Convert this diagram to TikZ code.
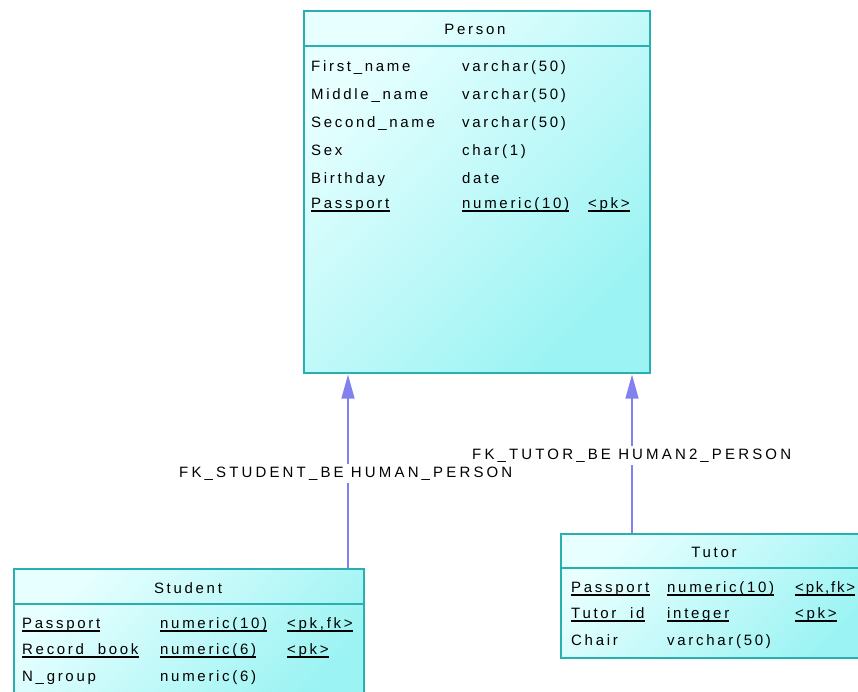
\documentclass[tikz,border=0pt]{standalone}
\usepackage{fontspec}
\setmainfont{Liberation Sans}[LetterSpace=18]
\usetikzlibrary{arrows.meta,calc}
\definecolor{tborder}{RGB}{40,175,175}
\definecolor{tlight}{RGB}{232,255,255}
\definecolor{tdark}{RGB}{155,243,243}
\definecolor{fkcol}{RGB}{130,130,238}
\newcommand{\rowul}[1]{\draw[ulline] ([yshift=-3pt]#1.base west) -- ([yshift=-3pt]#1.base east);}
\begin{document}
\begin{tikzpicture}[x=1pt,y=-1pt,
  tbl/.style={draw=tborder, line width=1.6pt, rectangle, inner sep=0pt,
    top color=tlight, bottom color=tdark, shading angle=45, anchor=north west},
  tblline/.style={draw=tborder, line width=1.6pt},
  txt/.style={anchor=base west, inner sep=0pt, font=\fontsize{15}{18}\selectfont, text=black},
  ttl/.style={anchor=base, inner sep=0pt, font=\fontsize{15}{18}\selectfont, text=black},
  ulline/.style={draw=black, line width=1.2pt},
  fk/.style={draw=fkcol, line width=1.5pt, shorten >=1pt, -{Triangle[width=13pt,length=24pt]}},
  lbl/.style={fill=white, inner xsep=1pt, inner ysep=3pt, anchor=base west,
    font=\fontsize{15}{18}\selectfont\addfontfeature{LetterSpace=21}, text=black}
]
\useasboundingbox (0,0) rectangle (858,691);
\clip (0,0) rectangle (858,691);

% tables
\node[tbl, minimum width=346pt, minimum height=362pt] (person) at (303,10) {};
\node[tbl, minimum width=350pt, minimum height=140pt] (student) at (13,568) {};
\node[tbl, minimum width=320pt, minimum height=124pt] (tutor) at (560,533) {};
\draw[tblline] ([yshift=-36pt]person.north west) -- ([yshift=-36pt]person.north east);
\draw[tblline] ([yshift=-36pt]student.north west) -- ([yshift=-36pt]student.north east);
\draw[tblline] ([yshift=-35pt]tutor.north west) -- ([yshift=-35pt]tutor.north east);

% Person
\node[ttl] (ptitle) at (475,34) {Person};
\node[txt] (p1n) at (311,71) {First\_name};
\node[txt] (p1t) at (462,71) {varchar(50)};
\node[txt] (p2n) at (311,99) {Middle\_name};
\node[txt] (p2t) at (462,99) {varchar(50)};
\node[txt] (p3n) at (311,127) {Second\_name};
\node[txt] (p3t) at (462,127) {varchar(50)};
\node[txt] (p4n) at (311,155) {Sex};
\node[txt] (p4t) at (462,155) {char(1)};
\node[txt] (p5n) at (311,183) {Birthday};
\node[txt] (p5t) at (462,183) {date};
\node[txt] (p6n) at (311,208) {Passport};
\node[txt] (p6t) at (462,208) {numeric(10)};
\node[txt] (p6k) at (588,208) {<pk>};
\rowul{p6n}\rowul{p6t}\rowul{p6k}

% Student
\node[ttl] (stitle) at (188,593) {Student};
\node[txt] (s1n) at (22,628) {Passport};
\node[txt] (s1t) at (160,628) {numeric(10)};
\node[txt] (s1k) at (287,628) {<pk,fk>};
\node[txt] (s2n) at (22,654) {Record\_book};
\node[txt] (s2t) at (160,654) {numeric(6)};
\node[txt] (s2k) at (287,654) {<pk>};
\node[txt] (s3n) at (22,681) {N\_group};
\node[txt] (s3t) at (160,681) {numeric(6)};
\rowul{s1n}\rowul{s1t}\rowul{s1k}
\rowul{s2n}\rowul{s2t}\rowul{s2k}

% Tutor
\node[ttl] (ttitle) at (714,557) {Tutor};
\node[txt] (t1n) at (571,592) {Passport};
\node[txt] (t1t) at (667,592) {numeric(10)};
\node[txt, font=\fontsize{15}{18}\selectfont\addfontfeature{LetterSpace=12}] (t1k) at (795,592) {<pk,fk>};
\node[txt] (t2n) at (571,618) {Tutor\_id};
\node[txt] (t2t) at (667,618) {integer};
\node[txt] (t2k) at (795,618) {<pk>};
\node[txt] (t3n) at (571,645) {Chair};
\node[txt] (t3t) at (667,645) {varchar(50)};
\rowul{t1n}\rowul{t1t}\rowul{t1k}
\rowul{t2n}\rowul{t2t}\rowul{t2k}

% references
\coordinate (sx) at (348,0);
\coordinate (tx) at (632,0);
\draw[fk] (student.north -| sx) -- (person.south -| sx);
\draw[fk] (tutor.north -| tx) -- (person.south -| tx);
\node[lbl] (ltutor) at (471,459) {FK\_TUTOR\_BE HUMAN2\_PERSON};
\node[lbl] (lstudent) at (178,477) {FK\_STUDENT\_BE HUMAN\_PERSON};
\end{tikzpicture}
\end{document}
